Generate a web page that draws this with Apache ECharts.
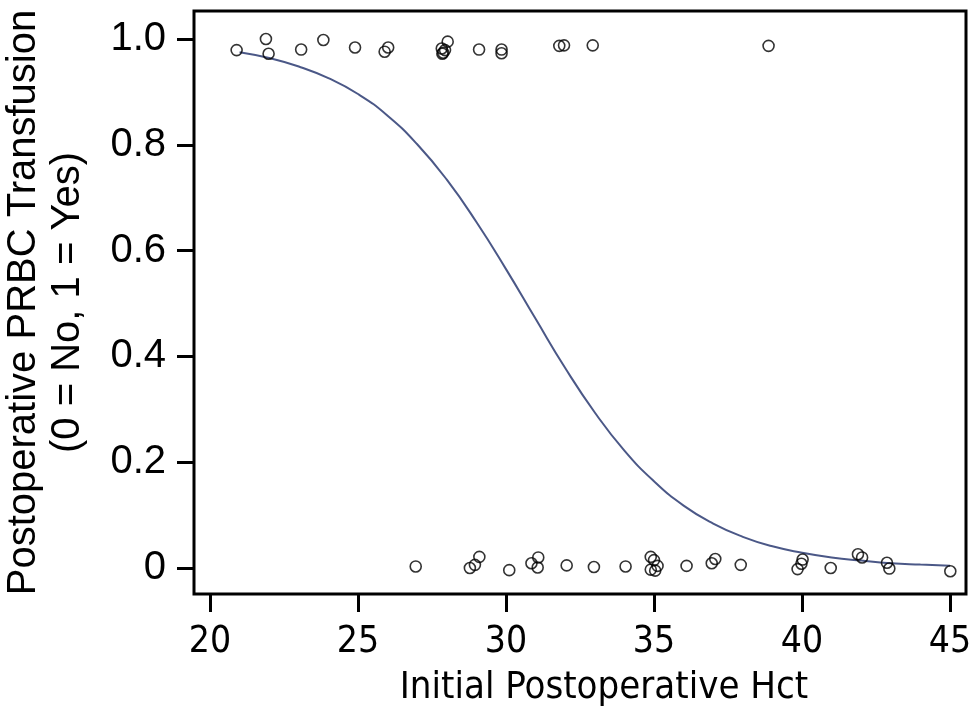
<!DOCTYPE html>
<html>
<head>
<meta charset="utf-8">
<title>PRBC Transfusion vs Hct</title>
<script src="https://cdn.jsdelivr.net/npm/echarts@6/dist/echarts.min.js"></script>
<style>
  html, body { margin: 0; padding: 0; background: #fff; }
  #chart { width: 980px; height: 709px; }
</style>
</head>
<body>
<div id="chart"></div>
<script>
// transfused patients (jittered around 1)
var yesHct = [20.9, 21.89, 21.98, 23.08, 23.83, 24.9, 25.9, 26.02, 28.03, 27.83, 27.88, 27.94, 27.85, 29.09, 29.85, 29.85, 31.8, 31.96, 32.93, 38.87];
var yesVal = [0.979, 1.0, 0.972, 0.980, 0.998, 0.984, 0.976, 0.984, 0.995, 0.982, 0.974, 0.979, 0.972, 0.980, 0.980, 0.973, 0.987, 0.988, 0.988, 0.987];
// not transfused (jittered around 0)
var noHct = [26.95, 28.78, 28.95, 29.1, 30.11, 30.86, 31.09, 31.07, 32.05, 32.97, 34.04, 34.89, 35.0, 35.12, 34.89, 35.04, 36.1, 36.95, 37.07, 37.93, 40.02, 39.98, 39.85, 40.97, 41.89, 42.03, 42.87, 42.95, 45.01];
var noVal = [0.003, 0.0, 0.006, 0.021, -0.004, 0.009, 0.020, 0.001, 0.005, 0.002, 0.003, 0.021, 0.015, 0.004, -0.003, -0.005, 0.004, 0.009, 0.017, 0.006, 0.016, 0.008, -0.002, 0.0, 0.026, 0.020, 0.010, -0.001, -0.006];
// fitted curve
var curveHct = [21, 22, 23, 24, 25, 26, 27, 28, 29, 30, 31, 32, 33, 34, 35, 36, 37, 38, 39, 40, 41, 42, 43, 44, 45];
var curveVal = [0.975, 0.964, 0.948, 0.926, 0.896, 0.855, 0.801, 0.734, 0.654, 0.565, 0.471, 0.378, 0.294, 0.222, 0.164, 0.118, 0.084, 0.059, 0.041, 0.029, 0.020, 0.014, 0.009, 0.0065, 0.0045];
var xTicks = [20, 25, 30, 35, 40, 45];
var yTicks = [0, 0.2, 0.4, 0.6, 0.8, 1.0];

function pairs(xs, ys) {
  return xs.map(function (x, i) { return [x, ys[i]]; });
}

var narrow = 'Liberation Sans Narrow, DejaVu Sans Condensed, sans-serif';
var chart = echarts.init(document.getElementById('chart'));
chart.setOption({
  animation: false,
  grid: {
    left: 194, top: 11, right: 14, bottom: 115,
    outerBoundsMode: 'none', containLabel: false,
    show: true, borderColor: '#000', borderWidth: 3, backgroundColor: '#fff'
  },
  xAxis: {
    type: 'value', min: 19.46, max: 45.54,
    name: 'Initial Postoperative Hct',
    nameLocation: 'middle', nameGap: 59,
    nameTextStyle: { fontFamily: narrow, fontSize: 38, color: '#000', lineHeight: 44, padding: [0, 0, 0, 48] },
    axisLine: { show: false, onZero: false },
    splitLine: { show: false },
    axisTick: { show: true, customValues: xTicks, length: 18, lineStyle: { color: '#000', width: 3 } },
    axisLabel: {
      customValues: xTicks, margin: 30,
      fontFamily: narrow, fontSize: 37, color: '#000'
    }
  },
  yAxis: {
    type: 'value', min: -0.0491, max: 1.0529,
    name: 'Postoperative PRBC Transfusion\n(0 = No, 1 = Yes)',
    nameLocation: 'middle', nameGap: 104, nameRotate: 90,
    nameTextStyle: { fontFamily: 'Liberation Sans, Arial, sans-serif', fontSize: 40, color: '#000', lineHeight: 44 },
    axisLine: { show: false, onZero: false },
    splitLine: { show: false },
    axisTick: { show: true, customValues: yTicks, length: 17, lineStyle: { color: '#000', width: 3 } },
    axisLabel: {
      customValues: yTicks, margin: 28,
      fontFamily: 'Liberation Sans, Arial, sans-serif', fontSize: 40, color: '#000',
      formatter: function (v) { return v === 0 ? '0' : v.toFixed(1); }
    }
  },
  series: [
    {
      type: 'line', data: pairs(curveHct, curveVal), smooth: true, showSymbol: false,
      lineStyle: { color: '#4b5887', width: 2 }, z: 2
    },
    {
      type: 'scatter', data: pairs(yesHct, yesVal), symbol: 'circle', symbolSize: 11,
      itemStyle: { color: 'rgba(0,0,0,0)', borderColor: '#000', borderWidth: 1.6 }, z: 3
    },
    {
      type: 'scatter', data: pairs(noHct, noVal), symbol: 'circle', symbolSize: 11,
      itemStyle: { color: 'rgba(0,0,0,0)', borderColor: '#000', borderWidth: 1.6 }, z: 3
    }
  ]
});
</script>
</body>
</html>
